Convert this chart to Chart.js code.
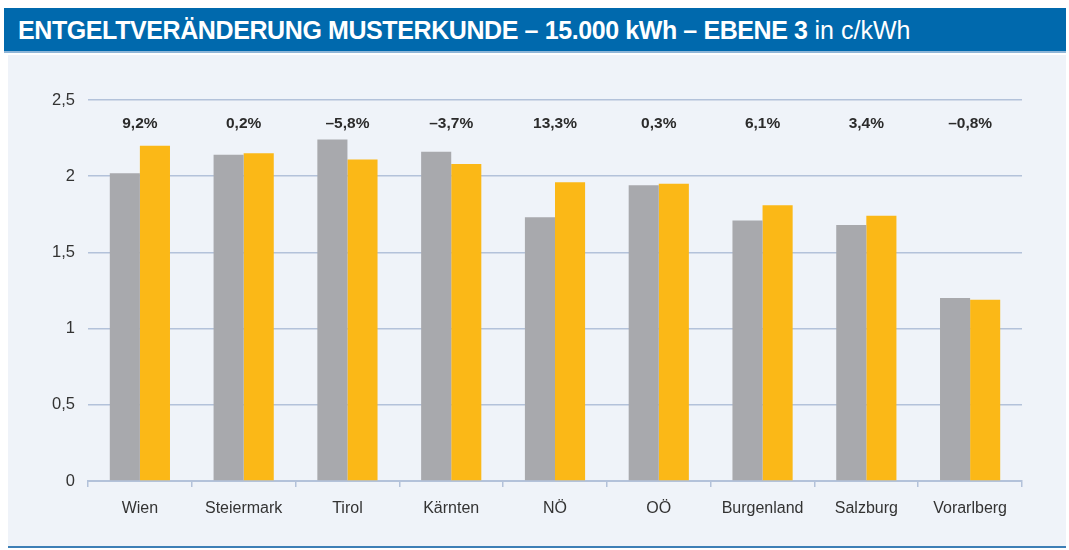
<!DOCTYPE html>
<html><head><meta charset="utf-8">
<script src="https://cdn.jsdelivr.net/npm/chart.js@4"></script>
<style>
html,body{margin:0;padding:0;background:#fff;width:1069px;height:550px;overflow:hidden;}
#title{position:absolute;left:4px;top:8px;width:1062px;height:45px;background:#0069ad;border-bottom:2px solid #8fb6d8;box-sizing:border-box;color:#fff;font-family:"Liberation Sans",Arial,sans-serif;font-size:25px;line-height:44px;padding-left:14px;white-space:nowrap;}
#title b{font-weight:bold;letter-spacing:-0.4px;}
#panel{position:absolute;left:8px;top:55px;width:1058px;height:491px;background:#eff3f9;}
#bottom{position:absolute;left:8px;top:546px;width:1058px;height:2px;background:#3d7fb6;}
#c{position:absolute;left:0;top:0;}
</style></head><body>
<div id="title"><b>ENTGELTVERÄNDERUNG MUSTERKUNDE – 15.000 kWh – EBENE 3</b> in c/kWh</div>
<div id="panel"></div>
<div id="bottom"></div>
<canvas id="c" width="1069" height="550"></canvas>
<script>
const categories = ["Wien","Steiermark","Tirol","Kärnten","NÖ","OÖ","Burgenland","Salzburg","Vorarlberg"];
const previousValues = [2.02,2.14,2.24,2.16,1.73,1.94,1.71,1.68,1.20];
const currentValues = [2.20,2.15,2.11,2.08,1.96,1.95,1.81,1.74,1.19];
const changeLabels = ["9,2%","0,2%","–5,8%","–3,7%","13,3%","0,3%","6,1%","3,4%","–0,8%"];
const yTicks = [0,0.5,1,1.5,2,2.5];

const fontFamily = '"Liberation Sans", Arial, sans-serif';
const gridColor = '#b3c2da';

const pctPlugin = {
  id:'pct',
  afterDatasetsDraw(chart){
    const ctx = chart.ctx, xs = chart.scales.x;
    ctx.save();
    ctx.font = 'bold 15.5px ' + fontFamily;
    ctx.fillStyle = '#2b2b2b';
    ctx.textAlign = 'center';
    ctx.textBaseline = 'middle';
    changeLabels.forEach((t,i)=>{
      ctx.fillText(t, xs.getPixelForValue(i), 124);
    });
    ctx.restore();
  }
};

new Chart(document.getElementById('c'), {
  type:'bar',
  data:{
    labels:categories,
    datasets:[
      {label:'prev', data:previousValues, backgroundColor:'#a8a9ad', categoryPercentage:0.58, barPercentage:1.0},
      {label:'curr', data:currentValues, backgroundColor:'#fbb817', categoryPercentage:0.58, barPercentage:1.0}
    ]
  },
  options:{
    responsive:false,
    animation:false,
    layout:{padding:{left:0,top:100,right:47,bottom:0}},
    plugins:{legend:{display:false},tooltip:{enabled:false}},
    scales:{
      x:{
        grid:{display:true,drawOnChartArea:false,drawTicks:true,tickLength:6,color:gridColor,lineWidth:1.5,offset:true},
        border:{display:true,color:gridColor,width:2},
        ticks:{color:'#333',font:{family:fontFamily,size:16},padding:12},
        afterFit(s){s.height=69;}
      },
      y:{
        min:0,max:2.5,
        afterBuildTicks(s){s.ticks = yTicks.map(v=>({value:v}));},
        grid:{color:gridColor,lineWidth:1.5,drawTicks:false},
        border:{display:false},
        ticks:{color:'#333',font:{family:fontFamily,size:16.5},padding:13,
          callback:v=>String(v).replace('.',',')},
        afterFit(s){s.width=88;}
      }
    }
  },
  plugins:[pctPlugin]
});
</script>
</body></html>
